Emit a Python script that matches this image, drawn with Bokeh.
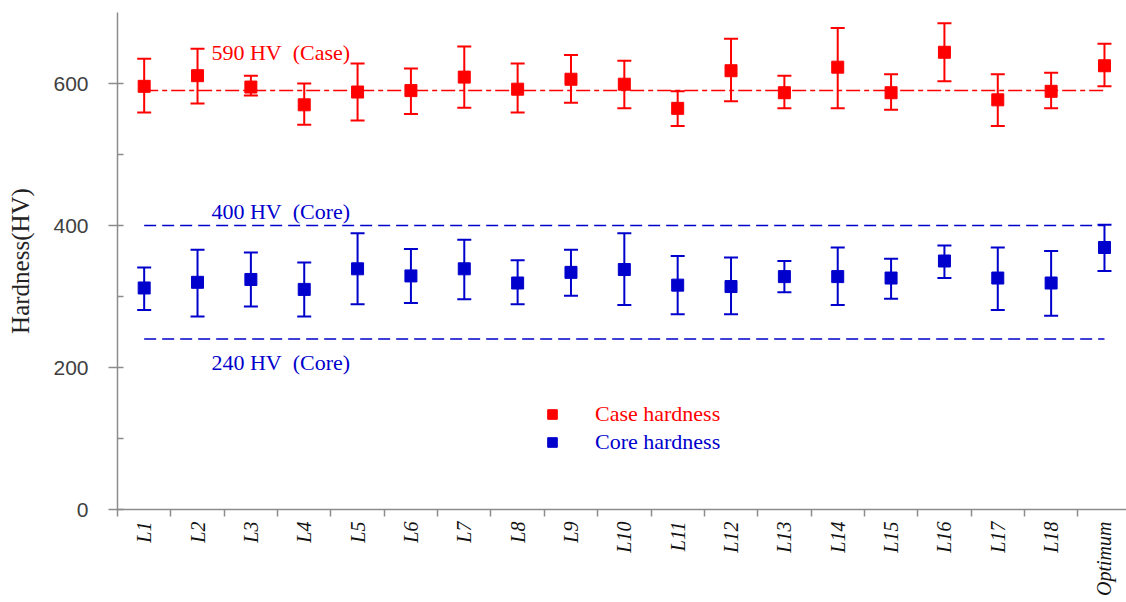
import math
from bokeh.plotting import figure
from bokeh.models import (ColumnDataSource, Whisker, TeeHead, Range1d, FixedTicker,
                          Label, Legend, LegendItem)
from bokeh.embed import file_html
from bokeh.resources import INLINE

categories = ["L1", "L2", "L3", "L4", "L5", "L6", "L7", "L8", "L9", "L10",
              "L11", "L12", "L13", "L14", "L15", "L16", "L17", "L18", "Optimum"]

case_mean = [596, 611, 595, 570, 588, 590, 609, 592, 606, 599, 565, 618, 587, 623, 587, 644, 577, 589, 625]
case_upper = [635, 649, 611, 600, 628, 621, 652, 628, 640, 632, 589, 663, 611, 678, 613, 685, 613, 615, 656]
case_lower = [559, 572, 583, 542, 548, 557, 566, 559, 573, 565, 540, 575, 565, 565, 563, 603, 540, 565, 596]

core_mean = [312, 320, 324, 310, 339, 329, 339, 319, 334, 338, 316, 314, 328, 328, 326, 350, 326, 319, 369]
core_upper = [341, 366, 362, 348, 389, 367, 380, 351, 366, 389, 357, 355, 350, 369, 353, 372, 369, 364, 401]
core_lower = [281, 272, 286, 272, 289, 291, 296, 289, 301, 288, 275, 275, 306, 288, 297, 326, 281, 273, 336]

ref_values = [590, 400, 240]
ref_texts = ["590 HV\u00a0\u00a0(Case)", "400 HV\u00a0\u00a0(Core)", "240 HV\u00a0\u00a0(Core)"]

y_major = [0, 200, 400, 600]
y_minor = [100, 300, 500]
y_title = "Hardness(HV)"

RED = "#FF0000"
BLUE = "#0000CC"

xs = list(range(1, len(categories) + 1))

p = figure(width=1126, height=602, output_backend="svg", toolbar_location=None,
           x_range=Range1d(0.5, 0.5 + 1009 / 53.35), y_range=Range1d(0, 700),
           min_border_left=117, min_border_right=0, min_border_top=12, min_border_bottom=93)
p.outline_line_color = None
p.grid.visible = False
p.background_fill_color = "white"

# reference lines
p.line([xs[0], xs[-1]], [ref_values[0]] * 2, line_color=RED, line_width=1.5, line_dash="14 4 5 4")
p.line([xs[0], xs[-1]], [ref_values[1]] * 2, line_color=BLUE, line_width=1.5, line_dash="12 6")
p.line([xs[0], xs[-1]], [ref_values[2]] * 2, line_color=BLUE, line_width=1.5, line_dash="12 6")

case_src = ColumnDataSource(dict(x=xs, y=case_mean, upper=case_upper, lower=case_lower))
core_src = ColumnDataSource(dict(x=xs, y=core_mean, upper=core_upper, lower=core_lower))

for src, col in ((case_src, RED), (core_src, BLUE)):
    w = Whisker(source=src, base="x", upper="upper", lower="lower", dimension="height",
                line_color=col, line_width=2,
                upper_head=TeeHead(size=14, line_color=col, line_width=2),
                lower_head=TeeHead(size=14, line_color=col, line_width=2))
    p.add_layout(w)

case_r = p.scatter("x", "y", source=case_src, marker="square", size=12,
                   fill_color=RED, line_color=RED)
core_r = p.scatter("x", "y", source=core_src, marker="square", size=12,
                   fill_color=BLUE, line_color=BLUE)

# annotations
offsets = [38, 14, -23]
colors = [RED, BLUE, BLUE]
for v, t, off, c in zip(ref_values, ref_texts, offsets, colors):
    p.add_layout(Label(x=2.26, y=v, y_offset=off, text=t, text_color=c,
                       text_font="Liberation Serif", text_font_size="22px",
                       text_baseline="middle", text_align="left"))

# legends
for r, lab, c, ly in ((case_r, "Case hardness", RED, 82), (core_r, "Core hardness", BLUE, 54)):
    lg = Legend(items=[LegendItem(label=lab, renderers=[r])], location=(423, ly),
                glyph_width=24, glyph_height=24, label_standoff=31, padding=0, margin=0,
                border_line_color=None, background_fill_alpha=0,
                label_text_color=c, label_text_font="Liberation Serif",
                label_text_font_size="22px", label_height=24)
    p.add_layout(lg)

# axes
xa = p.xaxis[0]
xa.ticker = FixedTicker(ticks=xs, minor_ticks=[x - 0.5 for x in xs] + [xs[-1] + 0.5])
xa.major_label_overrides = {x: c for x, c in zip(xs, categories)}
xa.major_tick_out = 0
xa.major_tick_in = 0
xa.minor_tick_out = 7
xa.minor_tick_in = 0
xa.minor_tick_line_color = "#8c8c8c"
xa.minor_tick_line_width = 1.5
xa.axis_line_color = "#8c8c8c"
xa.axis_line_width = 1.5
xa.major_label_orientation = math.pi / 2
xa.major_label_standoff = 5
xa.major_label_text_font = "Liberation Serif"
xa.major_label_text_font_style = "italic"
xa.major_label_text_font_size = "20px"
xa.major_label_text_color = "#111111"

ya = p.yaxis[0]
ya.ticker = FixedTicker(ticks=y_major, minor_ticks=y_minor)
ya.major_tick_out = 9
ya.major_tick_in = 6
ya.minor_tick_out = 0
ya.minor_tick_in = 6
ya.major_tick_line_color = "#8c8c8c"
ya.minor_tick_line_color = "#8c8c8c"
ya.major_tick_line_width = 1.5
ya.minor_tick_line_width = 1.5
ya.axis_line_color = "#8c8c8c"
ya.axis_line_width = 1.5
ya.major_label_standoff = 20
ya.major_label_text_font = "Liberation Sans"
ya.major_label_text_font_size = "21px"
ya.major_label_text_color = "#404040"
ya.axis_label = y_title
ya.axis_label_text_font = "Liberation Serif"
ya.axis_label_text_font_style = "normal"
ya.axis_label_text_font_size = "25px"
ya.axis_label_text_color = "#222222"
ya.axis_label_standoff = 16

open("out.html", "w").write(file_html(p, INLINE))
